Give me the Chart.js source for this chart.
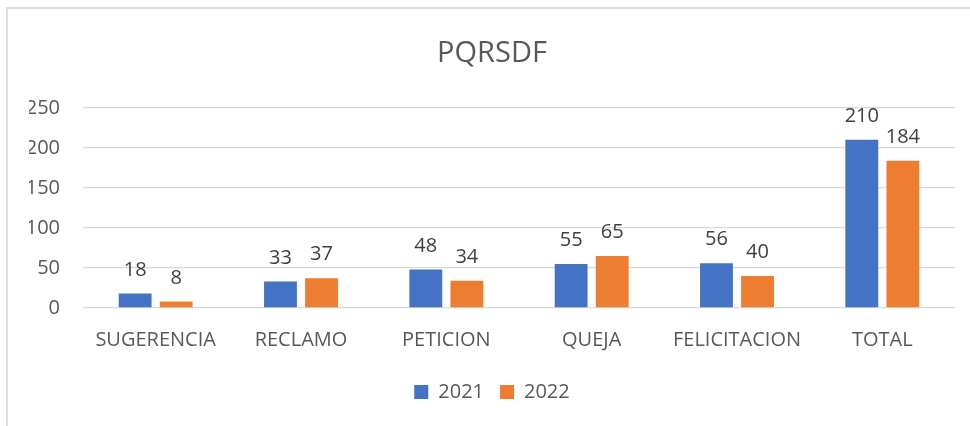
<!DOCTYPE html>
<html>
<head>
<meta charset="utf-8">
<script src="https://cdn.jsdelivr.net/npm/chart.js@4.4.1/dist/chart.umd.min.js"></script>
<style>
  html, body { margin: 0; padding: 0; background: #fff; overflow: hidden; }
  #wrap { position: relative; width: 970px; height: 426px; }
  #frame { position: absolute; left: 6px; top: 7px; width: 990px; height: 450px; border: 2px solid #dcdcdc; }
  canvas { position: absolute; left: 0; top: 0; }
</style>
</head>
<body>
<div id="wrap">
  <div id="frame"></div>
  <canvas id="chart" width="970" height="426"></canvas>
</div>
<script>
/* ===== DATA ===== */
const categories = ["SUGERENCIA", "RECLAMO", "PETICION", "QUEJA", "FELICITACION", "TOTAL"];
const values2021 = [18, 33, 48, 55, 56, 210];
const values2022 = [8, 37, 34, 65, 40, 184];
const seriesNames = ["2021", "2022"];
const yTicks = [0, 50, 100, 150, 200, 250];

Chart.defaults.font.family = "'Open Sans', sans-serif";
Chart.defaults.color = "#595959";

/* ===== VALUE LABELS ===== */
const valueLabels = {
  id: "valueLabels",
  afterDatasetsDraw(chart) {
    const ctx = chart.ctx;
    ctx.save();
    ctx.font = "20px 'Open Sans'";
    ctx.fillStyle = "#404040";
    ctx.textAlign = "center";
    ctx.textBaseline = "alphabetic";
    chart.data.datasets.forEach((ds, i) => {
      chart.getDatasetMeta(i).data.forEach((bar, j) => {
        ctx.fillText(ds.data[j], bar.x, bar.y - 18);
      });
    });
    ctx.restore();
  }
};

new Chart(document.getElementById("chart"), {
  type: "bar",
  data: {
    labels: categories,
    datasets: [
      { label: seriesNames[0], data: values2021, backgroundColor: "#4472C4" },
      { label: seriesNames[1], data: values2022, backgroundColor: "#ED7D31" }
    ]
  },
  options: {
    responsive: false,
    animation: false,
    categoryPercentage: 0.565,
    barPercentage: 0.8,
    layout: { padding: { left: 29, right: 15, top: 0, bottom: 14 } },
    plugins: {
      title: {
        display: true,
        text: "PQRSDF",
        color: "#595959",
        font: { size: 29, weight: "normal" },
        padding: { top: 36, bottom: 37 }
      },
      legend: {
        position: "bottom",
        labels: {
          boxWidth: 14,
          boxHeight: 14,
          padding: 16,
          color: "#595959",
          font: { size: 20 }
        }
      },
      tooltip: { enabled: false }
    },
    scales: {
      x: {
        grid: { display: false },
        border: { display: false },
        ticks: { padding: 12, color: "#595959", font: { size: 20 } },
        afterFit: scale => { scale.height = 58; }
      },
      y: {
        min: yTicks[0],
        max: yTicks[yTicks.length - 1],
        afterBuildTicks: scale => { scale.ticks = yTicks.map(v => ({ value: v })); },
        grid: { color: "#d9d9d9", lineWidth: 1.3, drawTicks: false },
        border: { display: false },
        ticks: { padding: 23, color: "#595959", font: { size: 20 } },
        afterFit: scale => { scale.width = 54; }
      }
    }
  },
  plugins: [valueLabels]
});
</script>
</body>
</html>
